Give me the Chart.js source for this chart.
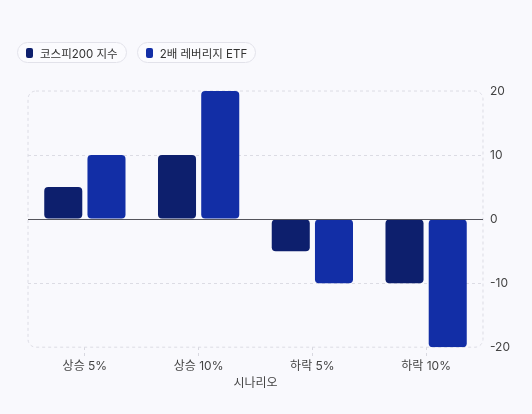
<!DOCTYPE html>
<html>
<head>
<meta charset="utf-8">
<script src="https://cdn.jsdelivr.net/npm/chart.js@4/dist/chart.umd.min.js"></script>
<style>
  html, body { margin: 0; padding: 0; background: #f9f9fd; }
  body { width: 532px; height: 414px; position: relative; overflow: hidden;
         font-family: Inter, "Noto Sans CJK KR", sans-serif; }
  #legend { position: absolute; left: 17px; top: 42px; display: flex; gap: 10px; z-index: 2; }
  .pill { display: flex; align-items: center; height: 19px; padding: 0 8px 0 8px;
          border: 1px solid #e2e2ea; border-radius: 11px; background: #fbfbfe;
          font-size: 11.5px; color: #333; }
  .pill i { display: inline-block; width: 7px; height: 10px; border-radius: 2px; margin-right: 7px; }
  #scenarioChart { position: absolute; left: 0; top: 0; }
</style>
</head>
<body>
<div id="legend"></div>
<canvas id="scenarioChart" width="532" height="414"></canvas>
<script>
// Scenario chart data
const categories = ["상승 5%", "상승 10%", "하락 5%", "하락 10%"];
const kospiValues = [5, 10, -5, -10];
const etfValues = [10, 20, -10, -20];
const seriesNames = ["코스피200 지수", "2배 레버리지 ETF"];
const seriesColors = ["#0d1f6d", "#122ea6"];
const yTicks = [-20, -10, 0, 10, 20];

const fontFamily = 'Inter, "Noto Sans CJK KR", sans-serif';

// rounded dashed frame around the plot area
const frame = {
  id: "frame",
  beforeDatasetsDraw(chart) {
    const { ctx, chartArea: a } = chart;
    ctx.save();
    ctx.strokeStyle = "#dcdce4";
    ctx.lineWidth = 1;
    ctx.setLineDash([3, 3]);
    ctx.beginPath();
    ctx.roundRect(a.left, a.top, a.right - a.left, a.bottom - a.top, 8);
    ctx.stroke();
    ctx.restore();
  },
  afterDatasetsDraw(chart) {
    const { ctx, chartArea: a, scales } = chart;
    const y0 = Math.round(scales.y.getPixelForValue(0)) + 0.5;
    ctx.save();
    ctx.strokeStyle = "#55555c";
    ctx.lineWidth = 1.2;
    ctx.beginPath();
    ctx.moveTo(a.left, y0);
    ctx.lineTo(a.right, y0);
    ctx.stroke();
    ctx.restore();
  }
};

const ctx = document.getElementById("scenarioChart").getContext("2d");

const scenarioChart = new Chart(ctx, {
  type: "bar",
  data: {
    labels: categories,
    datasets: [
      {
        label: seriesNames[0],
        data: kospiValues,
        backgroundColor: seriesColors[0],
        borderRadius: 4,
        borderSkipped: false,
        categoryPercentage: 0.76,
        barPercentage: 0.88,
      },
      {
        label: seriesNames[1],
        data: etfValues,
        backgroundColor: seriesColors[1],
        borderRadius: 4,
        borderSkipped: false,
        categoryPercentage: 0.76,
        barPercentage: 0.88,
      },
    ],
  },
  options: {
    responsive: false,
    animation: false,
    devicePixelRatio: 1,
    layout: { padding: { top: 91, left: 28, right: 15, bottom: 23 } },
    plugins: {
      legend: { display: false },
      tooltip: { enabled: false },
    },
    scales: {
      x: {
        border: { display: false, dash: [3, 3] },
        grid: {
          offset: false,
          drawOnChartArea: false,
          drawTicks: true,
          tickLength: 9,
          tickColor: "#d8d8e0",
          tickBorderDash: [3, 3],
        },
        ticks: { color: "#444", font: { family: fontFamily, size: 12 }, padding: 3 },
        title: {
          display: true,
          text: "시나리오",
          color: "#444",
          font: { family: fontFamily, size: 12 },
          padding: { top: 0, bottom: 0 },
        },
      },
      y: {
        position: "right",
        min: -20,
        max: 20,
        afterBuildTicks(axis) {
          axis.ticks = yTicks.map(v => ({ value: v }));
        },
        border: { display: false, dash: [3, 3] },
        grid: {
          drawTicks: false,
          color: c => (c.tick.value === 0 || Math.abs(c.tick.value) === 20 ? "transparent" : "#dcdce4"),
        },
        ticks: { color: "#444", font: { family: fontFamily, size: 12 }, padding: 7 },
      },
    },
  },
  plugins: [frame],
});

// html legend pills built from the datasets
const legend = document.getElementById("legend");
scenarioChart.data.datasets.forEach(ds => {
  const pill = document.createElement("div");
  pill.className = "pill";
  const box = document.createElement("i");
  box.style.background = ds.backgroundColor;
  pill.appendChild(box);
  pill.appendChild(document.createTextNode(ds.label));
  legend.appendChild(pill);
});
</script>
</body>
</html>
